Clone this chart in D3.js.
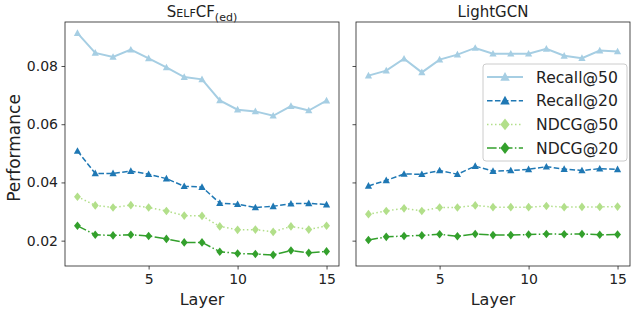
<!DOCTYPE html>
<html><head><meta charset="utf-8">
<script src="https://cdn.jsdelivr.net/npm/d3@7"></script>
<style>body{margin:0;background:#fff}svg{display:block}text{font-family:"DejaVu Sans",sans-serif}</style>
</head><body><svg id="c" width="631" height="313"></svg>
<script>
const layers = d3.range(1, 16);
const seriesNames = ["Recall@50", "Recall@20", "NDCG@50", "NDCG@20"];
const selfcfRecall50 = [0.0913,0.0845,0.0831,0.0856,0.0826,0.0795,0.0762,0.0754,0.0682,0.0650,0.0644,0.0629,0.0662,0.0647,0.0681];
const selfcfRecall20 = [0.0508,0.0431,0.0431,0.0439,0.0428,0.0413,0.0387,0.0384,0.0329,0.0325,0.0314,0.0318,0.0327,0.0328,0.0324];
const selfcfNdcg50 = [0.0351,0.0321,0.0314,0.0322,0.0314,0.0302,0.0286,0.0285,0.0249,0.0237,0.0238,0.0230,0.0249,0.0238,0.0251];
const selfcfNdcg20 = [0.0251,0.0220,0.0218,0.0220,0.0216,0.0206,0.0194,0.0194,0.0162,0.0156,0.0154,0.0151,0.0166,0.0158,0.0163];
const lgcnRecall50 = [0.0767,0.0784,0.0825,0.0778,0.0822,0.0839,0.0862,0.0842,0.0842,0.0842,0.0859,0.0835,0.0827,0.0853,0.0850];
const lgcnRecall20 = [0.0388,0.0407,0.0429,0.0428,0.0441,0.0428,0.0456,0.0439,0.0441,0.0445,0.0454,0.0446,0.0441,0.0447,0.0445];
const lgcnNdcg50 = [0.0291,0.0302,0.0311,0.0302,0.0314,0.0314,0.0321,0.0315,0.0315,0.0315,0.0319,0.0315,0.0316,0.0316,0.0317];
const lgcnNdcg20 = [0.0202,0.0213,0.0216,0.0218,0.0222,0.0215,0.0223,0.0219,0.0219,0.0221,0.0223,0.0222,0.0223,0.0220,0.0221];
const xTicks = [5, 10, 15];
const yTicks = [0.02, 0.04, 0.06, 0.08];

const styles = [
  {color:"#a6cee3", dash:null, marker:"tri", lw:2},
  {color:"#1f78b4", dash:"5.55,2.4", marker:"tri", lw:1.5},
  {color:"#b2df8a", dash:"1.5,2.5", marker:"dia", lw:1.5},
  {color:"#33a02c", dash:"9.6,2.4,1.5,2.4", marker:"dia", lw:1.5}
];
const panels = [
  {x0:65, x1:339, data:[selfcfRecall50,selfcfRecall20,selfcfNdcg50,selfcfNdcg20], yLabels:true},
  {x0:356, x1:630, data:[lgcnRecall50,lgcnRecall20,lgcnNdcg50,lgcnNdcg20], yLabels:false}
];
const plotTop = 22, plotBottom = 266;
const all = panels.flatMap(p => p.data.flat());
const mn = d3.min(all), mx = d3.max(all), pad = (mx - mn) * 0.05;
const y = d3.scaleLinear().domain([mn - pad, mx + pad]).range([plotBottom, plotTop]);
const svg = d3.select("#c");

function markerPath(type, s) {
  if (type === "tri") return `M0,${-s}L${s*0.95},${s*0.75}L${-s*0.95},${s*0.75}Z`;
  return `M0,${-s}L${s*0.8},0L0,${s}L${-s*0.8},0Z`;
}

panels.forEach((p, pi) => {
  const x = d3.scaleLinear().domain([0.3, 15.7]).range([p.x0, p.x1]);
  const g = svg.append("g");
  const xa = g.append("g").attr("transform", `translate(0,${plotBottom})`)
    .call(d3.axisBottom(x).tickValues(xTicks).tickSize(3.5).tickPadding(3.5).tickFormat(d3.format("d")));
  const ya = g.append("g").attr("transform", `translate(${p.x0},0)`)
    .call(d3.axisLeft(y).tickValues(yTicks).tickSize(3.5).tickPadding(3.5)
      .tickFormat(p.yLabels ? d3.format(".2f") : ""));
  [xa, ya].forEach(a => {
    a.select(".domain").remove();
    a.selectAll("line").attr("stroke", "#222").attr("stroke-width", 0.8);
    a.selectAll("text").attr("font-size", 14).attr("fill", "#222").attr("font-family", "DejaVu Sans");
  });
  xa.selectAll("text").attr("dy", "0.75em");
  const plot = g.append("g");
  p.data.forEach((vals, si) => {
    const st = styles[si];
    const line = d3.line().x((d, i) => x(layers[i])).y(d => y(d));
    plot.append("path").attr("d", line(vals)).attr("fill", "none")
      .attr("stroke", st.color).attr("stroke-width", st.lw)
      .attr("stroke-dasharray", st.dash);
    plot.selectAll(null).data(vals).enter().append("path")
      .attr("transform", (d, i) => `translate(${x(layers[i])},${y(d)})`)
      .attr("d", markerPath(st.marker, st.marker === "tri" ? 3.8 : 4.3))
      .attr("fill", st.color);
  });
  g.append("rect").attr("x", p.x0).attr("y", plotTop).attr("width", p.x1 - p.x0).attr("height", plotBottom - plotTop)
    .attr("fill", "none").attr("stroke", "#222").attr("stroke-width", 0.8);
  g.append("text").attr("x", (p.x0 + p.x1) / 2).attr("y", 305).attr("text-anchor", "middle")
    .attr("font-size", 16).attr("fill", "#222").text("Layer");
});

const t1 = svg.append("text").attr("x", 202).attr("y", 17).attr("text-anchor", "middle")
  .attr("font-size", 15).attr("fill", "#222");
t1.append("tspan").text("S");
t1.append("tspan").attr("font-size", 11).text("ELF");
t1.append("tspan").text("CF");
t1.append("tspan").attr("font-size", 11).attr("dy", 4).text("(ed)");
svg.append("text").attr("x", 493).attr("y", 17).attr("text-anchor", "middle")
  .attr("font-size", 15).attr("fill", "#222").text("LightGCN");

svg.append("text").attr("transform", "translate(20,148) rotate(-90)").attr("text-anchor", "middle")
  .attr("font-size", 17).attr("fill", "#222").text("Performance");

const lg = svg.append("g");
lg.append("rect").attr("x", 483).attr("y", 64).attr("width", 144).attr("height", 97).attr("rx", 3)
  .attr("fill", "rgba(255,255,255,0.8)").attr("stroke", "#ccc").attr("stroke-width", 1);
seriesNames.forEach((name, i) => {
  const st = styles[i];
  const cy = 77 + i * 23.7;
  lg.append("line").attr("x1", 487).attr("x2", 523).attr("y1", cy).attr("y2", cy)
    .attr("stroke", st.color).attr("stroke-width", st.lw).attr("stroke-dasharray", st.dash);
  lg.append("path").attr("transform", `translate(505,${cy})`)
    .attr("d", markerPath(st.marker, st.marker === "tri" ? 5 : 5.8)).attr("fill", st.color);
  lg.append("text").attr("x", 536).attr("y", cy).attr("dy", "0.36em")
    .attr("font-size", 15.6).attr("fill", "#222").text(name);
});
</script></body></html>
